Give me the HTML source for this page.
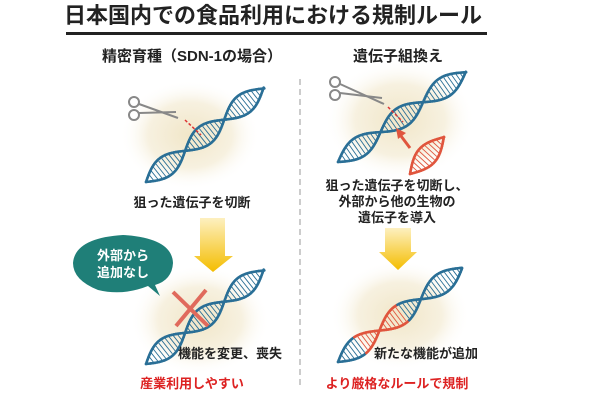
<!DOCTYPE html>
<html><head><meta charset="utf-8"><style>
body{margin:0;width:600px;height:400px;background:#fff;overflow:hidden;font-family:"Liberation Sans","Noto Sans CJK JP",sans-serif}
svg{position:absolute;left:0;top:0}
</style></head><body>
<svg id="s" width="600" height="400" viewBox="0 0 600 400" xmlns="http://www.w3.org/2000/svg">
<defs>
<radialGradient id="glow"><stop offset="0" stop-color="#f1e6c8"/><stop offset="0.6" stop-color="#f7f1e0"/><stop offset="1" stop-color="#fff" stop-opacity="0"/></radialGradient>
<linearGradient id="yel" x1="0" y1="0" x2="0" y2="1"><stop offset="0" stop-color="#fdf0c0"/><stop offset="1" stop-color="#f4bd00"/></linearGradient>
</defs>
<ellipse cx="190" cy="135" rx="70" ry="55" fill="url(#glow)"/>
<ellipse cx="400" cy="120" rx="75" ry="60" fill="url(#glow)"/>
<ellipse cx="200" cy="320" rx="70" ry="55" fill="url(#glow)"/>
<ellipse cx="400" cy="315" rx="70" ry="55" fill="url(#glow)"/>
<text x="273" y="23" font-size="22" font-weight="bold" text-anchor="middle" fill="#222">日本国内での食品利用における規制ルール</text>
<rect x="66" y="32" width="421" height="3" fill="#222"/>
<text x="192" y="61" font-size="15" font-weight="bold" text-anchor="middle" fill="#222">精密育種（SDN-1の場合）</text>
<text x="398" y="61" font-size="15" font-weight="bold" text-anchor="middle" fill="#222">遺伝子組換え</text>
<line x1="300" y1="79" x2="300" y2="388" stroke="#999" stroke-dasharray="6,4"/>
<g id="dna"></g>
<g stroke="#888" stroke-width="2" fill="none">
<circle cx="134" cy="102" r="5" fill="#fff"/><circle cx="134" cy="115" r="5" fill="#fff"/>
<line x1="139" y1="104" x2="178" y2="118"/><line x1="139" y1="113" x2="176" y2="112"/>
<circle cx="335" cy="82" r="5" fill="#fff"/><circle cx="335" cy="95" r="5" fill="#fff"/>
<line x1="340" y1="84" x2="384" y2="104"/><line x1="340" y1="93" x2="382" y2="98"/>
</g>
<line x1="185" y1="120" x2="201" y2="135" stroke="#d33" stroke-width="1.5" stroke-dasharray="3,2"/>
<line x1="388" y1="107" x2="403" y2="122" stroke="#d33" stroke-width="1.5" stroke-dasharray="3,2"/>
<line x1="410" y1="148" x2="401" y2="136" stroke="#e0553d" stroke-width="3"/>
<polygon points="396,128 406,133 398,139" fill="#e0553d"/>
<text x="192" y="207" font-size="13" font-weight="bold" text-anchor="middle" fill="#222">狙った遺伝子を切断</text>
<text x="397" y="190" font-size="13" font-weight="bold" text-anchor="middle" fill="#222">狙った遺伝子を切断し、</text>
<text x="397" y="206" font-size="13" font-weight="bold" text-anchor="middle" fill="#222">外部から他の生物の</text>
<text x="397" y="222" font-size="13" font-weight="bold" text-anchor="middle" fill="#222">遺伝子を導入</text>
<polygon points="200,218 225,218 225,256 233,256 213,272 194,256 200,256" fill="url(#yel)"/>
<polygon points="385,228 411,228 411,252 417,252 398,270 379,252 385,252" fill="url(#yel)"/>
<path d="M160,296 L148,286 Q123,296 98,290 Q73,280 73,263 Q75,238 123,235 Q172,238 173,263 Q172,280 155,285 Z" fill="#1f7f78"/>
<text x="123" y="260" font-size="13" font-weight="bold" text-anchor="middle" fill="#fff">外部から</text>
<text x="123" y="277" font-size="13" font-weight="bold" text-anchor="middle" fill="#fff">追加なし</text>
<g stroke="#e06a5c" stroke-width="4"><line x1="173" y1="292" x2="208" y2="326"/><line x1="206" y1="290" x2="176" y2="326"/></g>
<text x="230" y="358" font-size="13" font-weight="bold" text-anchor="middle" fill="#222">機能を変更、喪失</text>
<text x="426" y="358" font-size="13" font-weight="bold" text-anchor="middle" fill="#222">新たな機能が追加</text>
<text x="192" y="388" font-size="13" font-weight="bold" text-anchor="middle" fill="#d22">産業利用しやすい</text>
<text x="397" y="388" font-size="13" font-weight="bold" text-anchor="middle" fill="#d22">より厳格なルールで規制</text>
</svg>
<script>
var g=document.getElementById('dna'),ns='http://www.w3.org/2000/svg';
function helix(x1,y1,x2,y2,hp,A,ranges){
 var dx=x2-x1,dy=y2-y1,L=Math.hypot(dx,dy),ux=dx/L,uy=dy/L,nx=-uy,ny=ux;
 function P(t,o){return [x1+ux*t+nx*o,y1+uy*t+ny*o];}
 function col(t){for(var r of ranges||[])if(t>=r[0]&&t<=r[1])return '#e0553d';return '#2a6f96';}
 var step=2;
 for(var s=-1;s<=1;s+=2){
  for(var t=0;t<L;t+=step){
   var a=P(t,s*A*Math.sin(Math.PI*t/hp)),b=P(Math.min(t+step,L),s*A*Math.sin(Math.PI*Math.min(t+step,L)/hp));
   var l=document.createElementNS(ns,'line');l.setAttribute('x1',a[0]);l.setAttribute('y1',a[1]);l.setAttribute('x2',b[0]);l.setAttribute('y2',b[1]);
   l.setAttribute('stroke',col(t));l.setAttribute('stroke-width','2.6');l.setAttribute('stroke-linecap','round');g.appendChild(l);}
 }
 for(var t=3;t<L;t+=4){
  var o=A*Math.sin(Math.PI*t/hp);if(Math.abs(o)<2)continue;
  var a=P(t,o*0.85),b=P(t,-o*0.85);
  var l=document.createElementNS(ns,'line');l.setAttribute('x1',a[0]);l.setAttribute('y1',a[1]);l.setAttribute('x2',b[0]);l.setAttribute('y2',b[1]);
  l.setAttribute('stroke',col(t));l.setAttribute('stroke-width','0.9');g.appendChild(l);}
}
helix(146,182,264,88,50,10);
helix(338,162,466,72,52,10);
helix(146,364,264,270,50,10);
helix(338,362,462,268,52,10,[[28,80]]);
helix(410,174,444,137,50,10,[[0,99]]);
</script>
</body></html>
